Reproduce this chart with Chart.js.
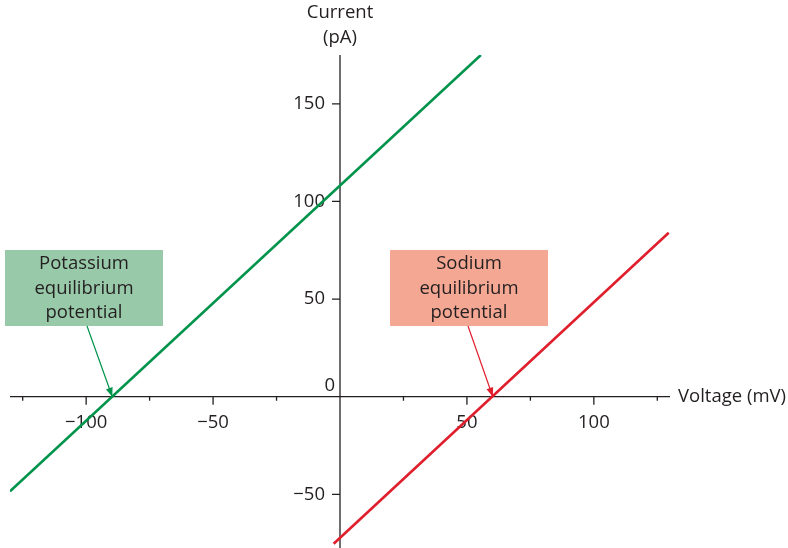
<!DOCTYPE html>
<html>
<head>
<meta charset="utf-8">
<script src="https://cdn.jsdelivr.net/npm/chart.js@4"></script>
<style>
  html, body { margin: 0; padding: 0; background: #fff; }
  #wrap { width: 788px; height: 548px; }
</style>
</head>
<body>
<div id="wrap"><canvas id="myChart" width="788" height="548"></canvas></div>
<script>
// data
var potassiumX = [-130, 55.5];
var potassiumY = [-48.5, 175];
var sodiumX = [-2.5, 129.5];
var sodiumY = [-75.3, 84];

var xTicks = [-125, -100, -75, -50, -25, 25, 50, 75, 100, 125];
var xLabels = ['\u2212100', '\u221250', '50', '100'];
var xLabelValues = [-100, -50, 50, 100];
var yTicks = [150, 100, 50, -50];
var yLabels = ['150', '100', '50', '\u221250'];

var potassiumEq = -89.7;
var sodiumEq = 60.2;

var FONT = '18.5px "Open Sans", sans-serif';
var TEXT = '#231f20';

function toPoints(xs, ys) {
    var pts = [];
    for (let i = 0; i < xs.length; i++) {
        pts.push({ x: xs[i], y: ys[i] });
    }
    return pts;
}

function arrow(ctx, x1, y1, x2, y2, color) {
    ctx.save();
    ctx.strokeStyle = color;
    ctx.fillStyle = color;
    ctx.lineWidth = 1.2;
    ctx.beginPath();
    ctx.moveTo(x1, y1);
    ctx.lineTo(x2, y2);
    ctx.stroke();
    var a = Math.atan2(y2 - y1, x2 - x1);
    var len = 9, w = 3.5;
    ctx.beginPath();
    ctx.moveTo(x2, y2);
    ctx.lineTo(x2 - len * Math.cos(a) + w * Math.sin(a), y2 - len * Math.sin(a) - w * Math.cos(a));
    ctx.lineTo(x2 - len * Math.cos(a) - w * Math.sin(a), y2 - len * Math.sin(a) + w * Math.cos(a));
    ctx.closePath();
    ctx.fill();
    ctx.restore();
}

function labelBox(ctx, x, y, w, h, fill, lines) {
    ctx.save();
    ctx.fillStyle = fill;
    ctx.fillRect(x, y, w, h);
    ctx.fillStyle = TEXT;
    ctx.font = FONT;
    ctx.textAlign = 'center';
    ctx.textBaseline = 'middle';
    for (let i = 0; i < lines.length; i++) {
        ctx.fillText(lines[i], x + w / 2, y + 14 + i * 24.5);
    }
    ctx.restore();
}

var axesPlugin = {
    id: 'crossAxes',
    beforeDatasetsDraw: function (chart) {
        var ctx = chart.ctx;
        var xs = chart.scales.x, ys = chart.scales.y;
        var ox = xs.getPixelForValue(0), oy = ys.getPixelForValue(0);
        var area = chart.chartArea;
        ctx.save();
        ctx.strokeStyle = TEXT;
        ctx.lineWidth = 1.3;
        ctx.beginPath();
        ctx.moveTo(area.left, oy);
        ctx.lineTo(area.right, oy);
        ctx.moveTo(ox, area.top);
        ctx.lineTo(ox, area.bottom);
        // x ticks, longer where labelled
        xTicks.forEach(function (v) {
            var px = xs.getPixelForValue(v);
            var l = (v % 50 === 0) ? 8 : 4;
            ctx.moveTo(px, oy);
            ctx.lineTo(px, oy + l);
        });
        yTicks.forEach(function (v) {
            var py = ys.getPixelForValue(v);
            ctx.moveTo(ox - 8, py);
            ctx.lineTo(ox, py);
        });
        ctx.stroke();

        ctx.fillStyle = TEXT;
        ctx.font = FONT;
        ctx.textAlign = 'center';
        ctx.textBaseline = 'middle';
        xLabelValues.forEach(function (v, i) {
            ctx.fillText(xLabels[i], xs.getPixelForValue(v), oy + 26);
        });
        ctx.textAlign = 'right';
        yTicks.forEach(function (v, i) {
            ctx.fillText(yLabels[i], ox - 15, ys.getPixelForValue(v));
        });
        ctx.fillText('0', ox - 5, oy - 11);

        ctx.textAlign = 'left';
        ctx.fillText('Voltage (mV)', area.right + 8, oy);
        ctx.textAlign = 'center';
        ctx.fillText('Current', ox, 13);
        ctx.fillText('(pA)', ox, 38);
        ctx.restore();
    },
    afterDatasetsDraw: function (chart) {
        var ctx = chart.ctx;
        var xs = chart.scales.x, ys = chart.scales.y;
        var oy = ys.getPixelForValue(0);
        labelBox(ctx, 5, 250, 158, 76, '#98c9a9', ['Potassium', 'equilibrium', 'potential']);
        labelBox(ctx, 390, 250, 158, 76, '#f4a893', ['Sodium', 'equilibrium', 'potential']);
        arrow(ctx, 87, 326, xs.getPixelForValue(potassiumEq), oy, '#00934b');
        arrow(ctx, 468, 326, xs.getPixelForValue(sodiumEq), oy, '#e01f2d');
    }
};

var canvas = document.getElementById('myChart');
var ctx = canvas.getContext('2d');

var chart = new Chart(ctx, {
    type: 'scatter',
    data: {
        datasets: [{
            label: 'Potassium',
            data: toPoints(potassiumX, potassiumY),
            showLine: true,
            borderColor: '#00934b',
            borderWidth: 2.6,
            pointRadius: 0
        }, {
            label: 'Sodium',
            data: toPoints(sodiumX, sodiumY),
            showLine: true,
            borderColor: '#e01f2d',
            borderWidth: 2.6,
            pointRadius: 0
        }]
    },
    options: {
        responsive: false,
        animation: false,
        layout: { padding: { left: 10, right: 118, top: 55, bottom: 0 } },
        plugins: { legend: { display: false }, tooltip: { enabled: false } },
        scales: {
            x: { type: 'linear', min: -130, max: 130, display: false },
            y: { type: 'linear', min: -77.5, max: 175, display: false }
        }
    },
    plugins: [axesPlugin]
});
</script>
</body>
</html>
